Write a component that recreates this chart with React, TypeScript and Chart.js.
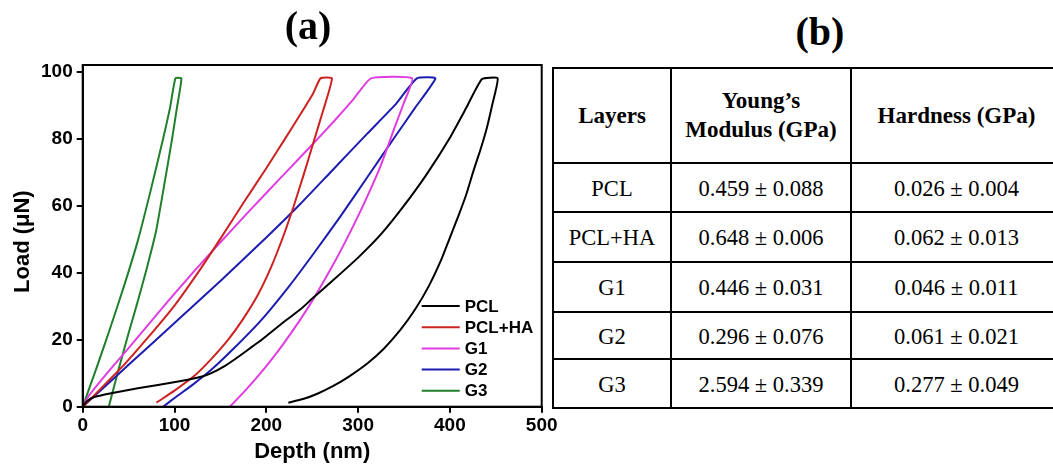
import React, { useEffect, useRef } from "react";
import { Chart, registerables } from "chart.js";

Chart.register(...registerables);

// ---------- Data ----------
const seriesNames = ["PCL", "PCL+HA", "G1", "G2", "G3"];
const seriesColors = ["#000000", "#cc2222", "#e03ce0", "#1c1cb0", "#1f7f2a"];

const pclDepth = [0, 4, 12, 31, 60, 104, 130, 140, 155, 170, 185, 195, 220, 237, 251, 273, 300, 325, 350, 375, 400, 418, 435, 452,
  446, 440, 433, 426, 418, 410, 400, 390, 377, 362, 346, 328, 310, 290, 273, 255, 240, 224];
const pclLoad = [0, 1.5, 2.8, 4, 5.5, 7.5, 9, 10, 12.2, 15, 18, 20, 25.5, 29, 32.5, 37.8, 44.5, 51.5, 60, 69.5, 80.3, 89.3, 97.8, 98,
  90, 83, 76.5, 70.7, 63.5, 57.5, 50.5, 43.5, 36, 29, 22.9, 17.3, 12.9, 9, 6.2, 3.8, 2.3, 1.2];

const pclHaDepth = [0, 10, 25, 44, 70, 100, 128, 152, 175, 200, 220, 237, 251, 259, 271.5,
  262, 251.5, 241, 230, 218, 205, 191, 175, 158.5, 140, 122, 100, 80.3];
const pclHaLoad = [0, 2.7, 6.9, 12.2, 20.3, 30.2, 41, 51, 60.8, 71.2, 79.8, 87.2, 93.5, 98, 98,
  88.5, 79, 69.5, 60, 50.5, 41.5, 33.5, 26.3, 20, 14.2, 9.3, 4.8, 1.2];

const g1Depth = [0, 6, 25, 50, 93, 120, 148, 175, 200, 225, 251, 273, 295, 314, 358.8,
  350, 340, 324, 305, 286, 270, 251, 237, 220, 205, 190, 175, 160.3];
const g1Load = [0, 3, 9.5, 17.5, 31.5, 40, 48.5, 56.5, 63.8, 71, 78.5, 85, 91.8, 98, 98,
  90.8, 83.5, 71.5, 59.8, 49.2, 41, 32, 26, 19.3, 13.8, 8.8, 4.2, 0];

const g2Depth = [0, 20, 50, 100, 150, 200, 237, 270, 310, 340, 364, 384.2,
  362, 340, 310, 280, 251, 225, 195, 165, 140, 120, 100, 87.6];
const g2Load = [0, 5, 12.5, 25, 37.5, 50.5, 60.5, 70, 81.5, 90, 98, 98,
  89.2, 80.5, 68.5, 56.5, 45.5, 36, 26, 17.5, 11, 6.6, 2.6, 0];

const g3Depth = [0, 15, 30, 45, 60, 74, 87.6, 95, 101, 107.5,
  102.5, 97.4, 89, 80, 70, 60, 49.5, 39, 28.4];
const g3Load = [0, 11.5, 23.5, 36, 49.5, 64.5, 80, 89, 98, 98,
  89, 80, 66.5, 52.5, 41.5, 31.5, 21.5, 11, 0];

const seriesDepths = [pclDepth, pclHaDepth, g1Depth, g2Depth, g3Depth];
const seriesLoads = [pclLoad, pclHaLoad, g1Load, g2Load, g3Load];

const xTicks = [0, 100, 200, 300, 400, 500];
const yTicks = [0, 20, 40, 60, 80, 100];
const xMin = 0;
const xMax = 500;
const yMin = 0;
const yMax = 102;
const xTitle = "Depth (nm)";
const yTitle = "Load (\u03bcN)";
const panelATitle = "(a)";
const panelBTitle = "(b)";

const tableHeaders = ["Layers", "Young\u2019s\nModulus (GPa)", "Hardness (GPa)"];
const tableLayers = ["PCL", "PCL+HA", "G1", "G2", "G3"];
const youngsModulus = ["0.459 \u00b1 0.088", "0.648 \u00b1 0.006", "0.446 \u00b1 0.031", "0.296 \u00b1 0.076", "2.594 \u00b1 0.339"];
const hardness = ["0.026 \u00b1 0.004", "0.062 \u00b1 0.013", "0.046 \u00b1 0.011", "0.061 \u00b1 0.021", "0.277 \u00b1 0.049"];

// ---------- Styling ----------
const SANS = "'Liberation Sans', Arial, Helvetica, sans-serif";
const SERIF = "'Liberation Serif', 'Times New Roman', Times, serif";

const framePlugin = {
  id: "frame",
  afterDraw(chart: any) {
    const { ctx, chartArea } = chart;
    ctx.save();
    ctx.strokeStyle = "#000";
    ctx.lineWidth = 2;
    ctx.strokeRect(chartArea.left, chartArea.top, chartArea.right - chartArea.left, chartArea.bottom - chartArea.top);
    // y-axis title
    ctx.translate(chartArea.left - 60, (chartArea.top + chartArea.bottom) / 2 + 5.8);
    ctx.rotate(-Math.PI / 2);
    ctx.font = `bold 22px ${SANS}`;
    ctx.fillStyle = "#000";
    ctx.textAlign = "center";
    ctx.textBaseline = "middle";
    ctx.fillText(yTitle, 0, 0);
    ctx.restore();
  },
};

const legendPlugin = {
  id: "insideLegend",
  afterDraw(chart: any) {
    const { ctx, chartArea } = chart;
    ctx.save();
    ctx.font = `bold 17px ${SANS}`;
    ctx.textBaseline = "middle";
    ctx.textAlign = "left";
    chart.data.datasets.forEach((ds: any, i: number) => {
      const y = chartArea.bottom - 100.7 + i * 21.2;
      ctx.strokeStyle = ds.borderColor;
      ctx.lineWidth = 2;
      ctx.beginPath();
      ctx.moveTo(chartArea.right - 120, y);
      ctx.lineTo(chartArea.right - 82, y);
      ctx.stroke();
      ctx.fillStyle = "#000";
      ctx.fillText(ds.label, chartArea.right - 77, y + 1);
    });
    ctx.restore();
  },
};

function LoadDepthChart() {
  const ref = useRef<HTMLCanvasElement | null>(null);
  useEffect(() => {
    if (!ref.current) return;
    const datasets = seriesNames.map((name, i) => ({
      label: name,
      data: seriesDepths[i].map((x, j) => ({ x, y: seriesLoads[i][j] })),
      showLine: true,
      borderColor: seriesColors[i],
      backgroundColor: seriesColors[i],
      borderWidth: 2,
      pointRadius: 0,
      fill: false,
      tension: 0.15,
    }));
    const tickFont = { family: SANS, size: 19, weight: "bold" as const };
    const chart = new Chart(ref.current, {
      type: "scatter",
      data: { datasets },
      options: {
        animation: false,
        responsive: false,
        maintainAspectRatio: false,
        layout: { padding: { left: 0, top: 65, right: 58.3, bottom: 0 }, autoPadding: false } as any,
        plugins: { legend: { display: false }, tooltip: { enabled: false }, title: { display: false } },
        scales: {
          x: {
            type: "linear",
            min: xMin,
            max: xMax,
            afterBuildTicks: (scale: any) => {
              scale.ticks = xTicks.map((v) => ({ value: v }));
            },
            afterFit: (scale: any) => {
              scale.height = 57.3;
            },
            ticks: { color: "#000", font: tickFont, padding: 2, maxRotation: 0, autoSkip: false },
            grid: { drawOnChartArea: false, drawTicks: true, tickLength: 6, color: "#000", lineWidth: 2 },
            border: { display: true, color: "#000", width: 2 },
            title: {
              display: true,
              text: xTitle,
              color: "#000",
              font: { family: SANS, size: 22, weight: "bold", lineHeight: 1 },
              padding: { top: 0, bottom: 1 },
            },
          },
          y: {
            type: "linear",
            min: yMin,
            max: yMax,
            afterBuildTicks: (scale: any) => {
              scale.ticks = yTicks.map((v) => ({ value: v }));
            },
            afterFit: (scale: any) => {
              scale.width = 82.7;
            },
            ticks: { color: "#000", font: tickFont, padding: 4, autoSkip: false },
            grid: { drawOnChartArea: false, drawTicks: true, tickLength: 6, color: "#000", lineWidth: 2 },
            border: { display: true, color: "#000", width: 2 },
            title: { display: false },
          },
        },
      } as any,
      plugins: [framePlugin, legendPlugin],
    });
    return () => chart.destroy();
  }, []);
  return <canvas ref={ref} width={600} height={464} style={{ position: "absolute", left: 0, top: 0, display: "block" }} />;
}

const colWidths = [118, 180, 211];
const rowHeights = [95, 49, 50, 50, 47, 49];

function PropertiesTable() {
  const cellBase: React.CSSProperties = {
    boxSizing: "border-box",
    borderRight: "2px solid #000",
    borderBottom: "2px solid #000",
    display: "flex",
    alignItems: "center",
    justifyContent: "center",
    textAlign: "center",
    fontFamily: SERIF,
    color: "#000",
    whiteSpace: "pre-line",
  };
  const rows: string[][] = [tableHeaders, ...tableLayers.map((l, i) => [l, youngsModulus[i], hardness[i]])];
  return (
    <div
      style={{
        position: "absolute",
        left: 552,
        top: 66.7,
        boxSizing: "border-box",
        borderTop: "2px solid #000",
        borderLeft: "2px solid #000",
        display: "grid",
        gridTemplateColumns: colWidths.map((w) => `${w}px`).join(" "),
        gridTemplateRows: rowHeights.map((h) => `${h}px`).join(" "),
        background: "#fff",
      }}
    >
      {rows.map((row, r) =>
        row.map((txt, c) => (
          <div
            key={`${r}-${c}`}
            style={{
              ...cellBase,
              fontSize: r === 0 ? 23 : 22.5,
              fontWeight: r === 0 ? "bold" : "normal",
              lineHeight: r === 0 ? "29px" : "24px",
              paddingTop: r === 0 ? 0 : 3,
            }}
          >
            {txt}
          </div>
        ))
      )}
    </div>
  );
}

export default function App() {
  const titleStyle: React.CSSProperties = {
    position: "absolute",
    width: 120,
    textAlign: "center",
    fontFamily: SERIF,
    fontWeight: "bold",
    fontSize: 40,
    lineHeight: "44px",
    color: "#000",
  };
  return (
    <div style={{ position: "fixed", left: 0, top: 0, width: 1053, height: 464, overflow: "hidden", background: "#fff" }}>
      <LoadDepthChart />
      <div style={{ ...titleStyle, left: 248, top: 3.5 }}>{panelATitle}</div>
      <PropertiesTable />
      <div style={{ ...titleStyle, left: 760, top: 9.5 }}>{panelBTitle}</div>
    </div>
  );
}
